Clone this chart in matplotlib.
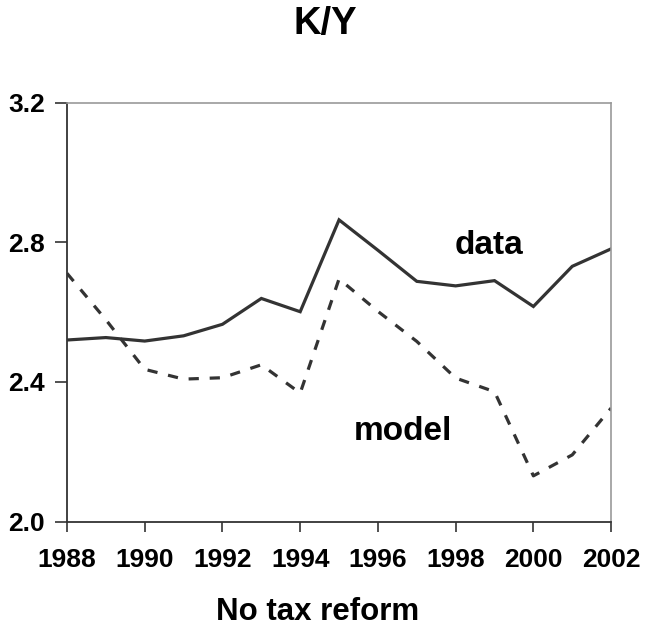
import matplotlib
matplotlib.use("Agg")
from matplotlib import pyplot as plt

# K/Y ratio, no tax reform
years = [1988, 1989, 1990, 1991, 1992, 1993, 1994, 1995,
         1996, 1997, 1998, 1999, 2000, 2001, 2002]
data_ky = [2.520, 2.527, 2.517, 2.532, 2.565, 2.639, 2.601, 2.864,
           2.777, 2.688, 2.675, 2.690, 2.616, 2.731, 2.781]
model_ky = [2.711, 2.578, 2.436, 2.408, 2.412, 2.449, 2.368, 2.695,
            2.602, 2.516, 2.411, 2.372, 2.131, 2.191, 2.325]
xticks = [1988, 1990, 1992, 1994, 1996, 1998, 2000, 2002]
yticks = [2.0, 2.4, 2.8, 3.2]

plt.rcParams['font.family'] = ['Liberation Sans', 'DejaVu Sans']
plt.rcParams['font.weight'] = 'bold'

fig = plt.figure(figsize=(6.46, 6.33), dpi=100)
ax = fig.add_axes([0.1037, 0.176, 0.8423, 0.662])

ax.plot(years, data_ky, color='#333333', lw=2.3, solid_joinstyle='miter')
ax.plot(years, model_ky, color='#333333', lw=2.3, dashes=(3.2, 3.4))

ax.set_xlim(1988, 2002)
ax.set_ylim(2.0, 3.2)
ax.set_xticks(xticks)
ax.set_yticks(yticks)
ax.set_xticklabels([str(y) for y in xticks], fontsize=19, fontweight='bold')
ax.set_yticklabels(['%.1f' % v for v in yticks], fontsize=19, fontweight='bold')
ax.tick_params(axis='x', direction='out', length=7, width=1.2, color='#333333', pad=12)
ax.tick_params(axis='y', direction='out', length=9, width=1.2, color='#333333', pad=7)

ax.spines['left'].set_color('#333333')
ax.spines['bottom'].set_color('#333333')
ax.spines['left'].set_linewidth(1.3)
ax.spines['bottom'].set_linewidth(1.3)
ax.spines['top'].set_color('#999999')
ax.spines['right'].set_color('#999999')
ax.spines['top'].set_linewidth(1.2)
ax.spines['right'].set_linewidth(1.2)

# series labels
ax.text(1998.85, 2.792, 'data', fontsize=24, fontweight='bold', ha='center', va='center')
ax.text(1996.64, 2.258, 'model', fontsize=24, fontweight='bold', ha='center', va='center')

fig.text(0.503, 0.962, 'K/Y', fontsize=27.5, fontweight='bold', ha='center', va='center')
fig.text(0.4915, 0.033, 'No tax reform', fontsize=22.5, fontweight='bold', ha='center', va='center')

fig.savefig('out.png', dpi=100)
